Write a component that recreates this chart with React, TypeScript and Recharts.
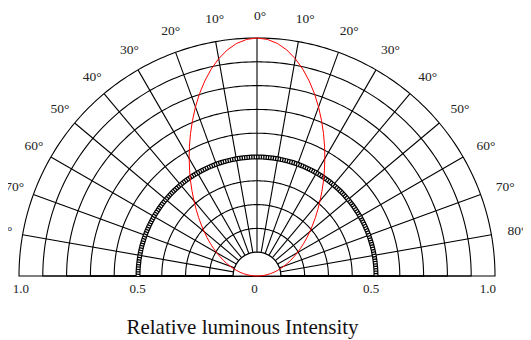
import React from "react";
import {
  RadarChart,
  Radar,
  PolarGrid,
  PolarAngleAxis,
  PolarRadiusAxis,
} from "recharts";

// angle from the beam axis in degrees (0 = straight up), one side only
const halfAngles = [
  0, 2.5, 5, 7.5, 10, 12.5, 15, 17.5, 20, 22.5, 25, 27.5, 30, 32.5, 35, 37.5,
  40, 42.5, 45, 47.5, 50, 52.5, 55, 57.5, 60, 62.5, 65, 67.5, 70, 72.5, 75,
  77.5, 80, 82.5, 85, 87.5, 90,
];
// relative intensity (red lobe), symmetric about 0°
const intensity = [
  1.0, 0.995, 0.981, 0.958, 0.927, 0.89, 0.848, 0.803, 0.756, 0.708, 0.661,
  0.615, 0.57, 0.527, 0.487, 0.448, 0.412, 0.378, 0.347, 0.317, 0.29, 0.264,
  0.24, 0.217, 0.196, 0.175, 0.156, 0.138, 0.121, 0.104, 0.088, 0.073, 0.058,
  0.043, 0.029, 0.014, 0,
];
const halfLevel = 0.5; // the heavy 50% ring
const innerLevel = 0.1; // the small hub in the middle

const angleTicks = [-80, -70, -60, -50, -40, -30, -20, -10, 0, 10, 20, 30, 40, 50, 60, 70, 80];
const ringTicks = [0, 0.1, 0.2, 0.3, 0.4, 0.5, 0.6, 0.7, 0.8, 0.9, 1.0];
const rightLabels = [0, 0.5, 1.0];
const leftLabels = [0.5, 1.0];
const title = "Relative luminous Intensity";

const rows = [
  ...halfAngles
    .slice(1)
    .reverse()
    .map((a, i) => ({ angle: -a, value: intensity[halfAngles.length - 1 - i] })),
  ...halfAngles.map((a, i) => ({ angle: a, value: intensity[i] })),
].map((r) => ({ ...r, half: halfLevel, inner: innerLevel }));

// polygon vertices for the semicircular rings (chart degrees)
const ringAngles = Array.from({ length: 181 }, (_, i) => i);

const FONT = "'Liberation Serif', 'Times New Roman', serif";

const AngleTick = ({ x, y, payload }: any) => (
  <text
    x={x + 3}
    y={y}
    textAnchor="middle"
    dominantBaseline="central"
    fontSize={13.5}
    fontFamily={FONT}
    fill="#222"
  >
    {Math.abs(payload.value)}°
  </text>
);

const radiusTick = (shown: number[]) => ({ x, y, payload }: any) =>
  shown.includes(payload.value) ? (
    <text
      x={x + 2.3 - 0.019 * x}
      y={y + 12}
      textAnchor="middle"
      dominantBaseline="central"
      fontSize={13}
      fontFamily={FONT}
      fill="#222"
    >
      {payload.value === 0 ? "0" : payload.value.toFixed(1)}
    </text>
  ) : (
    <g />
  );

// heavy ring: open path (no closing chord) drawn as a hollow chain
const ChainRing = (props: any) => {
  const pts = props.points || [];
  const d = pts.map((p: any, i: number) => `${i ? "L" : "M"}${p.x},${p.y}`).join("");
  return (
    <g>
      <path d={d} fill="none" stroke="#000" strokeWidth={5} />
      <path d={d} fill="none" stroke="#fff" strokeWidth={2.6} strokeDasharray="1.1 1.3" />
    </g>
  );
};

export default function App() {
  return (
    <div style={{ position: "relative", margin: "-8px 0 0 -8px", width: 531, height: 340 }}>
      <RadarChart
        width={531}
        height={340}
        data={rows}
        cx={257}
        cy={276}
        innerRadius={0}
        outerRadius={238}
        startAngle={180}
        endAngle={0}
        margin={{ top: 0, right: 0, bottom: 0, left: 0 }}
      >
        <PolarGrid
          gridType="polygon"
          radialLines={false}
          polarAngles={ringAngles}
          stroke="#000"
          strokeOpacity={1}
          strokeWidth={1.1}
        />
        <PolarGrid gridType="polygon" polarRadius={[]} stroke="#000" strokeOpacity={1} strokeWidth={1.1} />
        <PolarAngleAxis
          dataKey="angle"
          type="number"
          domain={[-90, 90]}
          ticks={angleTicks}
          tickSize={23}
          tickLine={false}
          axisLine={false}
          tick={AngleTick}
        />
        <PolarRadiusAxis
          angle={0}
          type="number"
          domain={[0, 1]}
          ticks={ringTicks}
          axisLine={false}
          tickLine={false}
          tick={radiusTick(rightLabels)}
        />
        <PolarRadiusAxis
          radiusAxisId="left"
          angle={180}
          type="number"
          domain={[0, 1]}
          ticks={leftLabels}
          axisLine={false}
          tickLine={false}
          tick={radiusTick(leftLabels)}
        />
        <Radar
          dataKey="inner"
          stroke="#000"
          strokeWidth={1.1}
          fill="#fff"
          fillOpacity={1}
          dot={false}
          isAnimationActive={false}
        />
        <Radar
          dataKey="half"
          radiusAxisId="left"
          shape={ChainRing}
          dot={false}
          isAnimationActive={false}
        />
        <Radar
          dataKey="value"
          stroke="#ff0000"
          strokeWidth={1}
          fill="none"
          dot={false}
          isAnimationActive={false}
        />
      </RadarChart>
      <div
        style={{
          position: "absolute",
          left: 0,
          top: 317,
          width: 485,
          textAlign: "center",
          fontFamily: FONT,
          fontSize: 21,
          lineHeight: "21px",
          color: "#111",
        }}
      >
        {title}
      </div>
    </div>
  );
}
